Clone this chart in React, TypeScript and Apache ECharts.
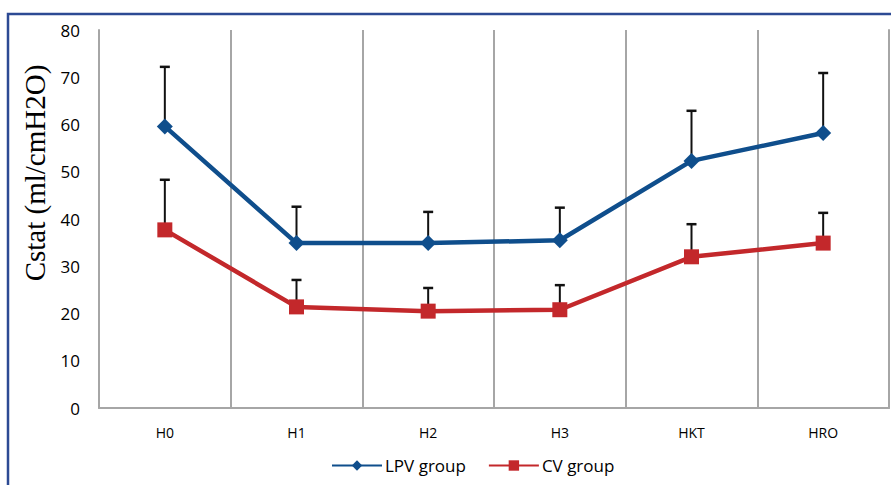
import React, { useEffect, useRef } from "react";
import * as echarts from "echarts";

const categories = ["H0", "H1", "H2", "H3", "HKT", "HRO"];
const lpvMean = [59.6, 34.9, 34.9, 35.5, 52.3, 58.2];
const lpvUpper = [72.2, 42.6, 41.5, 42.4, 62.9, 70.9];
const cvMean = [37.7, 21.4, 20.5, 20.8, 32.0, 34.9];
const cvUpper = [48.3, 27.1, 25.4, 26.0, 38.9, 41.3];

const BLUE = "#0f4e8c";
const RED = "#c3282b";
const GRID = "#a6a6a6";

function errorSeries(mean: number[], upper: number[]) {
  return {
    type: "custom",
    z: 1,
    silent: true,
    data: mean.map((m, i) => [i, m, upper[i]]),
    renderItem: (params: any, api: any) => {
      const i = api.value(0);
      const p0 = api.coord([i, api.value(1)]);
      const p1 = api.coord([i, api.value(2)]);
      const style = { stroke: "#111111", lineWidth: 2 };
      return {
        type: "group",
        children: [
          { type: "line", shape: { x1: p0[0], y1: p0[1], x2: p1[0], y2: p1[1] }, style },
          { type: "line", shape: { x1: p1[0] - 5, y1: p1[1], x2: p1[0] + 5, y2: p1[1] }, style: { stroke: "#111111", lineWidth: 2.5 } },
        ],
      };
    },
  };
}

export default function App() {
  const ref = useRef<HTMLDivElement>(null);
  useEffect(() => {
    document.body.style.margin = "0";
    const chart = echarts.init(ref.current!, null, { renderer: "svg" });
    chart.setOption({
      animation: false,
      backgroundColor: "#ffffff",
      grid: { left: 99, right: 2, top: 30, bottom: 77 },
      graphic: [
        {
          type: "rect",
          shape: { x: 8, y: 14, width: 1000, height: 600 },
          style: { fill: "none", stroke: "#2c4a94", lineWidth: 2.5 },
          silent: true,
        },
        {
          type: "text",
          x: 35,
          y: 173,
          rotation: Math.PI / 2,
          style: {
            text: "Cstat (ml/cmH2O)",
            font: '29px "Liberation Serif", "DejaVu Serif", serif',
            fill: "#000000",
            align: "center",
            verticalAlign: "middle",
          },
        },
      ],
      legend: {
        bottom: 6,
        left: 326,
        itemWidth: 50,
        itemHeight: 13,
        itemGap: 22,
        textStyle: { fontSize: 17, color: "#000", fontFamily: "Open Sans", padding: [0, 0, 0, -2] },
        data: ["LPV group", "CV group"],
      },
      xAxis: {
        type: "category",
        data: categories,
        boundaryGap: true,
        axisLine: { show: true, lineStyle: { color: GRID, width: 2 } },
        axisTick: { show: false },
        splitLine: { show: true, lineStyle: { color: GRID, width: 2 } },
        axisLabel: { fontSize: 14, color: "#000", margin: 17, fontFamily: "Open Sans" },
      },
      yAxis: [
        {
          type: "value",
          min: 0,
          max: 80,
          interval: 10,
          axisLine: { show: true, lineStyle: { color: GRID, width: 2 } },
          axisTick: { show: false },
          splitLine: { show: false },
          axisLabel: { fontSize: 17, color: "#000", margin: 19, fontFamily: "Open Sans" },
        },
        {
          type: "value",
          min: 0,
          max: 80,
          interval: 10,
          position: "right",
          axisLine: { show: true, lineStyle: { color: GRID, width: 2 } },
          axisTick: { show: false },
          splitLine: { show: false },
          axisLabel: { show: false },
        },
      ],
      series: [
        errorSeries(lpvMean, lpvUpper),
        errorSeries(cvMean, cvUpper),
        {
          name: "LPV group",
          type: "line",
          z: 3,
          data: lpvMean,
          symbol: "diamond",
          symbolSize: 16,
          itemStyle: { color: BLUE },
          lineStyle: { color: BLUE, width: 4.5 },
        },
        {
          name: "CV group",
          type: "line",
          z: 3,
          data: cvMean,
          symbol: "rect",
          symbolSize: 15,
          itemStyle: { color: RED },
          lineStyle: { color: RED, width: 4.5 },
        },
      ],
    });
    return () => chart.dispose();
  }, []);
  return <div ref={ref} style={{ width: 891, height: 485 }} />;
}
